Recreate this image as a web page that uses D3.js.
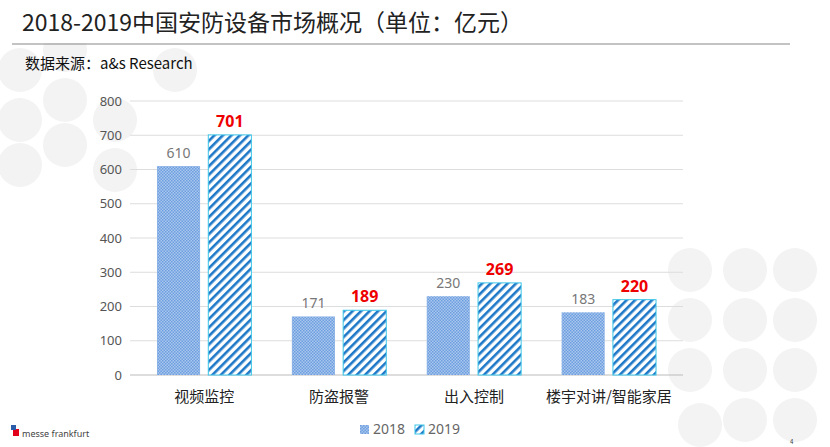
<!DOCTYPE html>
<html><head><meta charset="utf-8">
<script src="https://cdn.jsdelivr.net/npm/d3@7"></script>
<style>body{margin:0;background:#fff;font-family:"Noto Sans CJK SC","Noto Sans",sans-serif}</style>
</head><body><svg id="c" width="830" height="447"></svg>
<script>
var categories = ['视频监控', '防盗报警', '出入控制', '楼宇对讲/智能家居'];
var values2018 = [610, 171, 230, 183];
var values2019 = [701, 189, 269, 220];
var yTicks = [0, 100, 200, 300, 400, 500, 600, 700, 800];

var svg = d3.select('#c');
var defs = svg.append('defs');

// checkered fill for 2018, diagonal stripes for 2019
var p1 = defs.append('pattern').attr('id', 'dots').attr('width', 3).attr('height', 3).attr('patternUnits', 'userSpaceOnUse');
p1.append('rect').attr('width', 3).attr('height', 3).attr('fill', '#a9c6ec');
p1.append('rect').attr('width', 1.5).attr('height', 1.5).attr('fill', '#6d9fe0');
p1.append('rect').attr('x', 1.5).attr('y', 1.5).attr('width', 1.5).attr('height', 1.5).attr('fill', '#6d9fe0');
var p2 = defs.append('pattern').attr('id', 'stripes').attr('width', 6).attr('height', 6)
  .attr('patternUnits', 'userSpaceOnUse').attr('patternTransform', 'rotate(45)');
p2.append('rect').attr('width', 6).attr('height', 6).attr('fill', '#fff');
p2.append('rect').attr('width', 2.6).attr('height', 6).attr('fill', '#1e78c8');

// background circles
var circ = [[20, 20, 22], [20, 70, 22], [20, 120, 22], [20, 165, 22], [65, 50, 22], [65, 100, 22], [65, 145, 22],
  [115, 120, 22], [115, 170, 22], [175, 70, 22], [690, 270, 22], [745, 270, 22], [795, 270, 22], [690, 320, 22],
  [745, 320, 22], [795, 320, 22], [745, 370, 22], [795, 370, 22], [690, 370, 22], [795, 420, 22], [745, 420, 22], [700, 425, 22]];
svg.selectAll('circle.bg').data(circ).enter().append('circle')
  .attr('cx', function(d) { return d[0]; }).attr('cy', function(d) { return d[1]; }).attr('r', function(d) { return d[2]; })
  .attr('fill', '#f3f3f3');
svg.append('rect').attr('x', 0).attr('y', 0).attr('width', 830).attr('height', 43).attr('fill', '#fff');

svg.append('text').attr('x', 22).attr('y', 31).attr('font-size', 23).attr('fill', '#222')
  .text('2018-2019中国安防设备市场概况（单位：亿元）');
svg.append('line').attr('x1', 12).attr('x2', 790).attr('y1', 44).attr('y2', 44).attr('stroke', '#888').attr('stroke-width', 1);
svg.append('text').attr('x', 25).attr('y', 69).attr('font-size', 15).attr('fill', '#111').text('数据来源：a&s Research');

var y = d3.scaleLinear().domain([0, 800]).range([375, 101]);
var x = d3.scaleBand().domain(categories).range([130, 683]).paddingInner(0.3).paddingOuter(0.2);
var xs = d3.scaleBand().domain(['2018', '2019']).range([0, x.bandwidth()]).paddingInner(0.16).paddingOuter(0);

var plot = svg.append('g');
plot.selectAll('line.grid').data(yTicks).enter().append('line')
  .attr('x1', 130).attr('x2', 683).attr('y1', function(d) { return y(d); }).attr('y2', function(d) { return y(d); })
  .attr('stroke', function(d) { return d === 0 ? '#bbb' : '#ddd'; });

var yAxis = plot.append('g').attr('transform', 'translate(130,0)').call(d3.axisLeft(y).tickValues(yTicks).tickSize(0).tickPadding(8));
yAxis.select('.domain').remove();
yAxis.selectAll('text').attr('font-size', 13).attr('fill', '#555').attr('font-family', 'Noto Sans');

var xAxis = plot.append('g').attr('transform', 'translate(0,375)').call(d3.axisBottom(x).tickSize(0).tickPadding(16));
xAxis.select('.domain').remove();
xAxis.selectAll('text').attr('font-size', 15).attr('fill', '#222').attr('font-family', 'Noto Sans CJK SC');

plot.selectAll('rect.b18').data(values2018).enter().append('rect')
  .attr('x', function(d, i) { return x(categories[i]) + xs('2018'); })
  .attr('y', function(d) { return y(d); }).attr('width', xs.bandwidth())
  .attr('height', function(d) { return y(0) - y(d); }).attr('fill', 'url(#dots)');
plot.selectAll('rect.b19').data(values2019).enter().append('rect')
  .attr('x', function(d, i) { return x(categories[i]) + xs('2019'); })
  .attr('y', function(d) { return y(d); }).attr('width', xs.bandwidth())
  .attr('height', function(d) { return y(0) - y(d); }).attr('fill', 'url(#stripes)')
  .attr('stroke', '#3cc6e8').attr('stroke-width', 1);

plot.selectAll('text.l18').data(values2018).enter().append('text')
  .attr('x', function(d, i) { return x(categories[i]) + xs('2018') + xs.bandwidth() / 2; })
  .attr('y', function(d) { return y(d) - 8; }).attr('text-anchor', 'middle')
  .attr('font-size', 14).attr('fill', '#777').attr('font-family', 'Noto Sans').text(function(d) { return d; });
plot.selectAll('text.l19').data(values2019).enter().append('text')
  .attr('x', function(d, i) { return x(categories[i]) + xs('2019') + xs.bandwidth() / 2; })
  .attr('y', function(d) { return y(d) - 8; }).attr('text-anchor', 'middle')
  .attr('font-size', 16).attr('font-weight', 'bold').attr('fill', '#ee0000').attr('font-family', 'Noto Sans').text(function(d) { return d; });

// legend
var lg = svg.append('g').attr('transform', 'translate(360,434)');
lg.append('rect').attr('x', 0).attr('y', -9).attr('width', 9).attr('height', 9).attr('fill', 'url(#dots)');
lg.append('text').attr('x', 13).attr('y', 0).attr('font-size', 14).attr('fill', '#666').attr('font-family', 'Noto Sans').text('2018');
lg.append('rect').attr('x', 55).attr('y', -9).attr('width', 9).attr('height', 9).attr('fill', 'url(#stripes)').attr('stroke', '#3cc6e8');
lg.append('text').attr('x', 68).attr('y', 0).attr('font-size', 14).attr('fill', '#666').attr('font-family', 'Noto Sans').text('2019');

// footer logo
svg.append('rect').attr('x', 13).attr('y', 429).attr('width', 6).attr('height', 7).attr('fill', '#e2001a');
svg.append('rect').attr('x', 11).attr('y', 425).attr('width', 5).attr('height', 5).attr('fill', '#2a5caa');
svg.append('text').attr('x', 22).attr('y', 437).attr('font-size', 9).attr('fill', '#444').attr('font-family', 'Noto Sans').text('messe frankfurt');
svg.append('text').attr('x', 790).attr('y', 444).attr('font-size', 6).attr('fill', '#333').text('4');
</script></body></html>
